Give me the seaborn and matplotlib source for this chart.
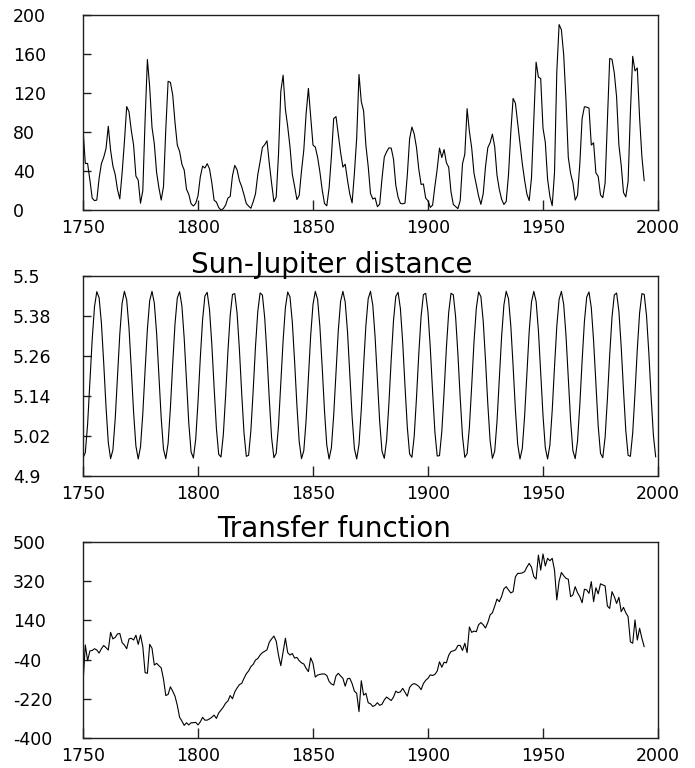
import numpy as np
import pandas as pd
import matplotlib
matplotlib.use("Agg")
import matplotlib.pyplot as plt
import seaborn as sns

# ---------------- data ----------------
sun_start = 1750
sunspots = [
    83.4, 47.7, 47.8, 30.7, 12.2, 9.6, 10.2, 32.4, 47.6, 54.0,
    62.9, 85.9, 61.2, 45.1, 36.4, 20.9, 11.4, 37.8, 69.8, 106.1,
    100.8, 81.6, 66.5, 34.8, 30.6, 7.0, 19.8, 92.5, 154.4, 125.9,
    84.8, 68.1, 38.5, 22.8, 10.2, 24.1, 82.9, 132.0, 130.9, 118.1,
    89.9, 66.6, 60.0, 46.9, 41.0, 21.3, 16.0, 6.4, 4.1, 6.8,
    14.5, 34.0, 45.0, 43.1, 47.5, 42.2, 28.1, 10.1, 8.1, 2.5,
    0.0, 1.4, 5.0, 12.2, 13.9, 35.4, 45.8, 41.1, 30.1, 23.9,
    15.6, 6.6, 4.0, 1.8, 8.5, 16.6, 36.3, 49.6, 64.2, 67.0,
    70.9, 47.8, 27.5, 8.5, 13.2, 56.9, 121.5, 138.3, 103.2, 85.7,
    64.6, 36.7, 24.2, 10.7, 15.0, 40.1, 61.5, 98.5, 124.7, 96.3,
    66.6, 64.5, 54.1, 39.0, 20.6, 6.7, 4.3, 22.7, 54.8, 93.8,
    95.8, 77.2, 59.1, 44.0, 47.0, 30.5, 16.3, 7.3, 37.6, 74.0,
    139.0, 111.2, 101.6, 66.2, 44.7, 17.0, 11.3, 12.4, 3.4, 6.0,
    32.3, 54.3, 59.7, 63.7, 63.5, 52.2, 25.4, 13.1, 6.8, 6.3,
    7.1, 35.6, 73.0, 85.1, 78.0, 64.0, 41.8, 26.2, 26.7, 12.1,
    9.5, 2.7, 5.0, 24.4, 42.0, 63.5, 53.8, 62.0, 48.5, 43.9,
    18.6, 5.7, 3.6, 1.4, 9.6, 47.4, 57.1, 103.9, 80.6, 63.6,
    37.6, 26.1, 14.2, 5.8, 16.7, 44.3, 63.9, 69.0, 77.8, 64.9,
    35.7, 21.2, 11.1, 5.7, 8.7, 36.1, 79.7, 114.4, 109.6, 88.8,
    67.8, 47.5, 30.6, 16.3, 9.6, 33.2, 92.6, 151.6, 136.3, 134.7,
    83.9, 69.4, 31.5, 13.9, 4.4, 38.0, 141.7, 190.2, 184.8, 159.0,
    112.3, 53.9, 37.5, 27.9, 10.2, 15.1, 47.0, 93.8, 105.9, 105.5,
    104.5, 66.6, 68.9, 38.0, 34.5, 15.5, 12.6, 27.5, 92.5, 155.4,
    154.6, 140.5, 115.9, 66.6, 45.9, 17.9, 13.4, 29.2, 100.2, 157.6,
    142.6, 145.7, 94.3, 54.6, 29.9,
]

jup_start = 1750
jupiter = [
    4.954, 4.970, 5.055, 5.181, 5.310, 5.408, 5.453, 5.435, 5.359, 5.240, 5.108, 5.000,
    4.952, 4.978, 5.071, 5.199, 5.326, 5.418, 5.454, 5.428, 5.344, 5.221, 5.090, 4.990,
    4.951, 4.987, 5.087, 5.218, 5.341, 5.426, 5.454, 5.419, 5.329, 5.203, 5.074, 4.980,
    4.952, 4.998, 5.104, 5.236, 5.356, 5.434, 5.453, 5.410, 5.313, 5.184, 5.058, 4.972,
    4.954, 5.010, 5.122, 5.254, 5.369, 5.440, 5.451, 5.399, 5.296, 5.166, 5.043, 4.965,
    4.957, 5.023, 5.140, 5.272, 5.382, 5.445, 5.447, 5.388, 5.280, 5.148, 5.029, 4.959,
    4.962, 5.037, 5.158, 5.289, 5.394, 5.449, 5.443, 5.375, 5.262, 5.130, 5.015, 4.955,
    4.968, 5.051, 5.176, 5.306, 5.405, 5.452, 5.437, 5.362, 5.244, 5.112, 5.003, 4.952,
    4.976, 5.067, 5.194, 5.322, 5.415, 5.454, 5.430, 5.348, 5.226, 5.095, 4.992, 4.951,
    4.985, 5.083, 5.213, 5.337, 5.424, 5.454, 5.422, 5.333, 5.207, 5.078, 4.982, 4.951,
    4.995, 5.100, 5.231, 5.352, 5.432, 5.454, 5.412, 5.317, 5.189, 5.062, 4.974, 4.953,
    5.007, 5.117, 5.249, 5.366, 5.439, 5.451, 5.402, 5.301, 5.170, 5.047, 4.966, 4.956,
    5.019, 5.135, 5.267, 5.379, 5.444, 5.448, 5.391, 5.284, 5.152, 5.032, 4.960, 4.961,
    5.033, 5.153, 5.285, 5.391, 5.448, 5.444, 5.378, 5.266, 5.134, 5.019, 4.956, 4.967,
    5.047, 5.171, 5.302, 5.403, 5.452, 5.438, 5.365, 5.248, 5.116, 5.006, 4.953, 4.974,
    5.063, 5.190, 5.318, 5.413, 5.454, 5.432, 5.351, 5.230, 5.099, 4.995, 4.951, 4.983,
    5.079, 5.208, 5.334, 5.422, 5.454, 5.424, 5.337, 5.212, 5.082, 4.985, 4.951, 4.993,
    5.096, 5.227, 5.349, 5.430, 5.454, 5.415, 5.321, 5.193, 5.066, 4.976, 4.952, 5.004,
    5.113, 5.245, 5.363, 5.437, 5.452, 5.405, 5.305, 5.175, 5.050, 4.968, 4.955, 5.016,
    5.131, 5.263, 5.376, 5.443, 5.449, 5.394, 5.288, 5.157, 5.036, 4.962, 4.959, 5.029,
    5.149, 5.280, 5.389, 5.447, 5.445, 5.382, 5.271, 5.138, 5.022, 4.957,
]

tf_start = 1750
transfer = [
    -149, 27, -45, 0, 2, 10, 4, -10, 10, 25,
    15, 4, 85, 55, 62, 78, 80, 38, 27, 10,
    55, 58, 50, 72, 30, 73, 20, -100, -103, 30,
    12, -65, -57, -68, -78, -130, -205, -200, -165, -185,
    -208, -250, -305, -322, -342, -330, -340, -330, -330, -328,
    -340, -326, -305, -318, -318, -312, -305, -295, -310, -285,
    -272, -258, -240, -230, -205, -220, -188, -170, -155, -149,
    -126, -105, -92, -72, -62, -42, -35, -19, -8, -2,
    5, 40, 55, 68, 45, -20, -68, -5, 58, -8,
    -19, -12, -33, -30, -45, -55, -60, -80, -95, -32,
    -57, -120, -111, -108, -106, -106, -113, -140, -152, -157,
    -115, -103, -115, -126, -162, -128, -126, -150, -185, -195,
    -279, -137, -203, -195, -238, -243, -255, -250, -238, -250,
    -245, -225, -212, -220, -228, -212, -185, -192, -188, -172,
    -190, -208, -168, -155, -150, -155, -163, -178, -150, -135,
    -126, -110, -113, -108, -93, -50, -75, -52, -55, -20,
    -3, 0, 5, 25, 25, 2, 35, -8, 110, 85,
    91, 88, 120, 130, 120, 105, 130, 165, 175, 205,
    238, 226, 250, 285, 295, 280, 266, 272, 340, 356,
    356, 358, 364, 385, 402, 384, 341, 330, 440, 371,
    445, 390, 425, 414, 425, 371, 234, 320, 360, 345,
    333, 329, 249, 257, 295, 267, 249, 221, 283, 280,
    264, 318, 226, 290, 262, 308, 303, 298, 206, 195,
    272, 249, 218, 246, 180, 200, 175, 157, 42, 35,
    142, 50, 104, 58, 19,
]

x_ticks = [1750, 1800, 1850, 1900, 1950, 2000]
x_ticklabels = ["1750", "1800", "1850", "1900", "1950", "2000"]
y1_ticks = [0, 40, 80, 120, 160, 200]
y1_labels = ["0", "40", "80", "120", "160", "200"]
y2_ticks = [4.9, 5.02, 5.14, 5.26, 5.38, 5.5]
y2_labels = ["4.9", "5.02", "5.14", "5.26", "5.38", "5.5"]
y3_ticks = [-400, -220, -40, 140, 320, 500]
y3_labels = ["-400", "-220", "-40", "140", "320", "500"]
title2 = "Sun-Jupiter distance"
title3 = "Transfer function"

df1 = pd.DataFrame({"year": np.arange(sun_start, sun_start + len(sunspots)), "v": sunspots})
df2 = pd.DataFrame({"year": np.arange(jup_start, jup_start + len(jupiter)), "v": jupiter})
df3 = pd.DataFrame({"year": np.arange(tf_start, tf_start + len(transfer)), "v": transfer})

# ---------------- style ----------------
sns.set_theme(style="white")
plt.rcParams["font.family"] = ["DejaVu Sans"]
plt.rcParams["text.color"] = "black"

W, H = 695, 768
fig = plt.figure(figsize=(W / 100, H / 100), dpi=100)
fig.patch.set_facecolor("white")

def rect(left, top, right, bottom):
    return [left / W, 1 - bottom / H, (right - left) / W, (bottom - top) / H]

ax1 = fig.add_axes(rect(83, 15, 658, 210))
ax2 = fig.add_axes(rect(83, 276, 658, 476))
ax3 = fig.add_axes(rect(83, 542, 658, 738))

specs = [
    (ax1, df1, (0, 200), y1_ticks, y1_labels),
    (ax2, df2, (4.9, 5.5), y2_ticks, y2_labels),
    (ax3, df3, (-400, 500), y3_ticks, y3_labels),
]

for ax, df, ylim, yt, yl in specs:
    sns.lineplot(data=df, x="year", y="v", ax=ax, color="black",
                 linewidth=0.8, estimator=None, legend=False)
    ax.set_xlim(1750, 2000)
    ax.set_ylim(*ylim)
    ax.set_xticks(x_ticks)
    ax.set_xticklabels(x_ticklabels, fontsize=12.5, color="black")
    ax.set_yticks(yt)
    ax.set_yticklabels(yl, fontsize=12.5, color="black")
    ax.set_xlabel("")
    ax.set_ylabel("")
    ax.set_facecolor("white")
    for s in ax.spines.values():
        s.set_visible(True)
        s.set_color("#202020")
        s.set_linewidth(1.0)
    ax.tick_params(axis="x", direction="in", length=7, width=1.0, color="#202020",
                   pad=6.5, bottom=True, top=False, labelcolor="black")
    ax.tick_params(axis="y", direction="in", length=6, width=1.0, color="#202020",
                   pad=50.5, left=True, right=False, labelcolor="black")
    for lbl in ax.get_yticklabels():
        lbl.set_horizontalalignment("left")
    ax.grid(False)

fig.text(332 / W, 1 - 273 / H, title2, ha="center", va="baseline",
         fontsize=20, color="black")
fig.text(334 / W, 1 - 537 / H, title3, ha="center", va="baseline",
         fontsize=20, color="black")

fig.savefig("out.png", dpi=100, facecolor="white")
